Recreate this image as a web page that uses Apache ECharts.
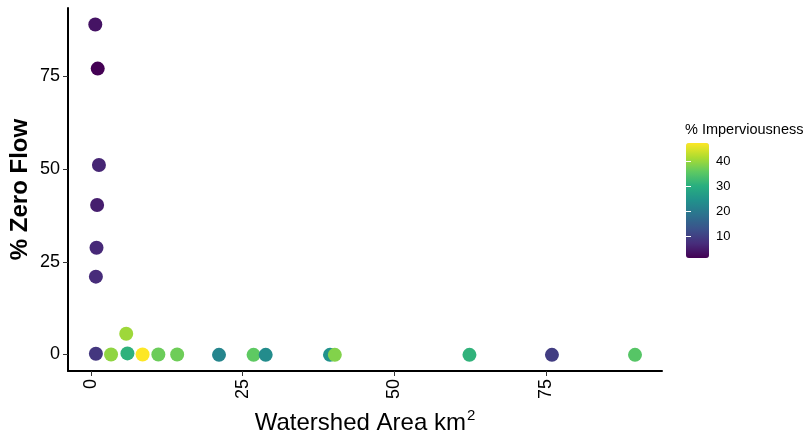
<!DOCTYPE html>
<html>
<head>
<meta charset="utf-8">
<script src="https://cdn.jsdelivr.net/npm/echarts@6/dist/echarts.min.js"></script>
<style>html,body{margin:0;padding:0;background:#fff}#c{width:807px;height:439px}</style>
</head>
<body>
<div id="c"></div>
<script>
// Watershed area (km2)
const area = [0.7, 1.1, 1.3, 1.0, 0.9, 0.8, 0.8, 3.3, 6.0, 5.8, 8.5, 11.1, 14.2, 21.1, 26.8, 28.8, 39.4, 40.2, 62.4, 76.0, 89.7];
// % zero flow
const zeroFlow = [89.0, 77.1, 51.1, 40.3, 28.8, 21.0, 0.2, 0.0, 0.3, 5.6, 0.0, 0.0, 0.0, -0.1, -0.1, -0.1, -0.1, -0.1, -0.1, -0.1, -0.1];
// % imperviousness
const impervious = [3.5, 1.2, 6.0, 5.0, 6.5, 6.8, 8.5, 39.5, 30.8, 40.5, 47.4, 36.8, 37.0, 22.0, 35.8, 23.4, 24.5, 38.5, 31.0, 9.5, 35.0];
const xTicks = [0, 25, 50, 75];
const yTicks = [0, 25, 50, 75];
const legendTicks = [10, 20, 30, 40];
const viridis = ['#440154', '#472D7B', '#3B528B', '#2C728E', '#21918C', '#28AE80', '#5EC962', '#ADDC30', '#FDE725'];

const data = area.map((a, i) => [a, zeroFlow[i], impervious[i]]);
const cMin = Math.min(...impervious), cMax = Math.max(...impervious);

const chart = echarts.init(document.getElementById('c'));
const font = 'Liberation Sans, Arial, sans-serif';
chart.setOption({
  animation: false,
  textStyle: { fontFamily: font },
  title: {
    text: '% Imperviousness', left: 685, top: 122, padding: 0,
    textStyle: { fontSize: 14.5, fontWeight: 'normal', color: '#000', fontFamily: font }
  },
  grid: [
    { left: 68, right: 145, top: 8, bottom: 68, outerBoundsMode: 'none', containLabel: false },
    { left: 686, top: 143, width: 23, height: 115, outerBoundsMode: 'none', containLabel: false }
  ],
  xAxis: [{
    type: 'value', gridIndex: 0, min: -3.8, max: 94.15,
    name: '{a|Watershed Area km}{b|2}', nameLocation: 'middle', nameGap: 37,
    nameTextStyle: {
      rich: {
        a: { fontSize: 24, color: '#000', fontFamily: font },
        b: { fontSize: 15, color: '#000', fontFamily: font, padding: [0, 0, 15, 1] }
      }
    },
    axisLine: { onZero: false, lineStyle: { color: '#000', width: 2 } },
    axisTick: { customValues: xTicks, length: 5, lineStyle: { color: '#333', width: 1 } },
    axisLabel: { customValues: xTicks, rotate: 90, fontSize: 18, color: '#000', margin: 8 },
    splitLine: { show: false }
  }, {
    type: 'value', gridIndex: 1, show: false, min: 0, max: 1
  }],
  yAxis: [{
    type: 'value', gridIndex: 0, min: -4.45, max: 93.45,
    name: '% Zero Flow', nameLocation: 'middle', nameGap: 36, nameMoveOverlap: false,
    nameTextStyle: { fontSize: 24, fontWeight: 'bold', color: '#000', fontFamily: font },
    axisLine: { show: true, onZero: false, lineStyle: { color: '#000', width: 2 } },
    axisTick: { show: true, customValues: yTicks, length: 5, lineStyle: { color: '#333', width: 1 } },
    axisLabel: { customValues: yTicks, fontSize: 18, color: '#000', margin: 8 },
    splitLine: { show: false }
  }, {
    type: 'value', gridIndex: 1, min: cMin, max: cMax, position: 'right', z: 20,
    axisLine: { show: false },
    axisTick: { show: true, inside: true, customValues: legendTicks, length: 5, lineStyle: { color: '#fff', width: 1 } },
    axisLabel: { customValues: legendTicks, fontSize: 13, color: '#000', margin: 7 },
    splitLine: { show: false }
  }, {
    type: 'value', gridIndex: 1, min: cMin, max: cMax, position: 'left', z: 20,
    axisLine: { show: false },
    axisTick: { show: true, inside: true, customValues: legendTicks, length: 5, lineStyle: { color: '#fff', width: 1 } },
    axisLabel: { show: false },
    splitLine: { show: false }
  }],
  visualMap: {
    type: 'continuous', dimension: 2, seriesIndex: 0,
    min: cMin, max: cMax, calculable: false, hoverLink: false,
    orient: 'vertical', left: 686, top: 143, itemWidth: 23, itemHeight: 115, padding: 0,
    inRange: { color: viridis }
  },
  series: [{
    type: 'scatter', xAxisIndex: 0, yAxisIndex: 0,
    symbolSize: 14, data: data,
    itemStyle: { opacity: 1 }
  }]
});
</script>
</body>
</html>
